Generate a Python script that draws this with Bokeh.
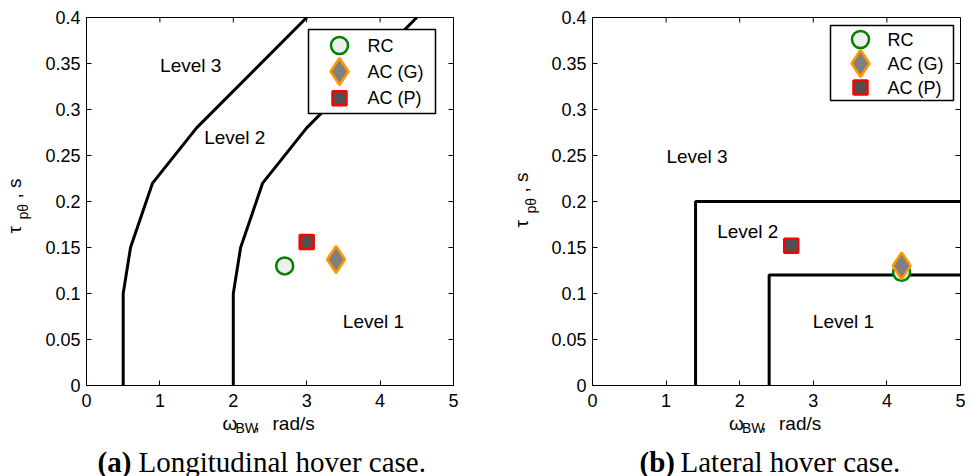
import math

from bokeh.core.properties import value
from bokeh.embed import file_html
from bokeh.layouts import column, row
from bokeh.models import FixedTicker, Range1d
from bokeh.plotting import figure
from bokeh.resources import INLINE

# ---- handling-quality level boundaries ----------------------------------
long_l32_x = [0.5, 0.5, 0.6, 0.9, 1.5, 3.0]
long_l32_y = [0.0, 0.10, 0.15, 0.22, 0.28, 0.40]
long_l21_x = [2.0, 2.0, 2.1, 2.4, 3.0, 4.5]
long_l21_y = [0.0, 0.10, 0.15, 0.22, 0.28, 0.40]

lat_l32_x = [1.4, 1.4, 5.0]
lat_l32_y = [0.0, 0.20, 0.20]
lat_l21_x = [2.4, 2.4, 5.0]
lat_l21_y = [0.0, 0.12, 0.12]

# ---- configurations: bandwidth (rad/s) and phase delay (s) ---------------
long_rc_bw, long_rc_tau = [2.7], [0.130]
long_acg_bw, long_acg_tau = [3.4], [0.137]
long_acp_bw, long_acp_tau = [3.0], [0.156]

lat_rc_bw, lat_rc_tau = [4.2], [0.123]
lat_acg_bw, lat_acg_tau = [4.2], [0.130]
lat_acp_bw, lat_acp_tau = [2.7], [0.152]

series_names = ["RC", "AC (G)", "AC (P)"]

# ---- region labels --------------------------------------------------------
level_names = ["Level 3", "Level 2", "Level 1"]
long_level_x = [1.42, 2.02, 3.91]
long_level_y = [0.348, 0.270, 0.0695]
lat_level_x = [1.42, 2.11, 3.41]
lat_level_y = [0.249, 0.167, 0.0695]

# ---- axes -----------------------------------------------------------------
x_ticks = [0, 1, 2, 3, 4, 5]
y_ticks = [0, 0.05, 0.1, 0.15, 0.2, 0.25, 0.3, 0.35, 0.4]
y_tick_labels = ["0", "0.05", "0.1", "0.15", "0.2", "0.25", "0.3", "0.35", "0.4"]
captions = [("(a)", "Longitudinal hover case."), ("(b)", "Lateral hover case.")]

SANS = "Liberation Sans"
SERIF = "Liberation Serif"
FW, FH = 367, 368              # plot-box size in pixels
TOP, BOTTOM, LEFT = 17, 28, 46  # borders round each plot box
ROW_H = TOP + FH + BOTTOM
X_MAX, Y_MAX = 5.0, 0.4
BASE_SHIFT = 0.33               # text baseline lies this many em below its anchor

STYLES = {
    "RC": dict(marker="circle", size=17, fill_color="#EEEEEE", line_color="#008000", line_width=2.5),
    "AC (G)": dict(marker="diamond", size=27, fill_color="#808080", line_color="#FF9900", line_width=2.5),
    "AC (P)": dict(marker="square", size=14, fill_color="#505050", line_color="#FF0000", line_width=2.5),
}


def style_axis(ax, standoff):
    ax.axis_line_color = "black"
    ax.axis_line_width = 1
    ax.major_tick_in = 5
    ax.major_tick_out = 0
    ax.major_tick_line_color = "black"
    ax.minor_tick_line_color = None
    ax.major_label_text_font = SANS
    ax.major_label_text_color = "black"
    ax.major_label_text_font_size = "18px"
    ax.major_label_standoff = standoff


def make_panel(frame_w, border_right):
    p = figure(
        frame_width=frame_w, frame_height=FH,
        x_range=Range1d(0, X_MAX), y_range=Range1d(0, Y_MAX),
        output_backend="svg", toolbar_location=None,
        min_border_left=LEFT, min_border_right=border_right,
        min_border_top=TOP, min_border_bottom=BOTTOM,
        background_fill_color="white", border_fill_color="white",
        outline_line_color="black", outline_line_width=1,
    )
    p.grid.visible = False
    p.xaxis.ticker = FixedTicker(ticks=x_ticks)
    p.yaxis.ticker = FixedTicker(ticks=y_ticks)
    p.yaxis.major_label_overrides = {t: s for t, s in zip(y_ticks, y_tick_labels)}
    for ax in p.xaxis:
        style_axis(ax, 8)
    for ax in p.yaxis:
        style_axis(ax, 6)
    # inward ticks along the top and right edges of the box
    p.ray(x=x_ticks, y=[Y_MAX] * len(x_ticks), length=5, angle=-math.pi / 2,
          length_units="screen", line_color="black", line_width=1)
    p.ray(x=[X_MAX] * len(y_ticks), y=y_ticks, length=5, angle=math.pi,
          length_units="screen", line_color="black", line_width=1)
    return p


def px_to_data(fw, px, py):
    """Offsets in pixels from the box's top-left corner to data coordinates."""
    return px / fw * X_MAX, (FH - py) / FH * Y_MAX


def draw_points(p, pts):
    for name, (bw, tau) in zip(series_names, pts):
        p.scatter(bw, tau, **STYLES[name])


def draw_legend(p, fw, box, marker_px, text_px, rows_px):
    l, t, r, b = box
    x0, y0 = px_to_data(fw, l, t)
    x1, y1 = px_to_data(fw, r, b)
    p.quad(left=x0, right=x1, top=y0, bottom=y1, fill_color="white",
           line_color="black", line_width=1.5)
    for name, ry in zip(series_names, rows_px):
        mx, my = px_to_data(fw, marker_px, ry)
        p.scatter([mx], [my], **STYLES[name])
        tx, _ = px_to_data(fw, text_px, ry)
        p.text([tx], [my], text=[name], text_font=value(SANS), text_font_size="18px",
               text_align="left", text_baseline="middle", text_color="black")


def strip(width, height, top=0, bottom=0):
    """A bare canvas, measured in pixels, that carries the titles.

    Returns the figure and the pixel row (from its top) where data y = 0 sits.
    """
    f = figure(width=width, height=height, x_range=Range1d(0, width),
               y_range=Range1d(0, height - top - bottom), output_backend="svg",
               toolbar_location=None, min_border_left=0, min_border_right=0,
               min_border_top=top, min_border_bottom=bottom,
               x_axis_location=None, y_axis_location=None, outline_line_color=None,
               background_fill_color="white", border_fill_color="white")
    f.grid.visible = False
    return f, height - bottom


def write(canvas, px, base, text, size, font=SANS, style="normal", vertical=False):
    """Place text so that its baseline runs through (px, base) / along x = base."""
    f, y0 = canvas
    s = float(size.rstrip("px"))
    if vertical:
        ax, ay, angle = base - BASE_SHIFT * s, y0 - px, math.pi / 2
    else:
        ax, ay, angle = px, y0 - (base - BASE_SHIFT * s), 0.0
    f.text([ax], [ay], text=[text], text_font=value(font),
           text_font_size=size, text_font_style=value(style), angle=angle,
           text_align="left", text_baseline="alphabetic", text_color="black")


def y_title(canvas, base_x, start_y, sub_drop):
    # tau with subscript p-theta, then ", s"; reads upward
    write(canvas, start_y, base_x, "\u03c4", "19px", vertical=True)
    write(canvas, start_y - 14, base_x + sub_drop, "p\u03b8", "14px", vertical=True)
    write(canvas, start_y - 35, base_x, ", s", "19px", vertical=True)


def x_title(canvas, cx, base_y):
    # omega with subscript BW, then ", rad/s"
    write(canvas, cx - 47.5, base_y, "\u03c9", "19px")
    write(canvas, cx - 34.5, base_y + 3, "BW", "14px")
    write(canvas, cx - 15.5, base_y, ",", "19px")
    write(canvas, cx + 2.5, base_y, "rad/s", "19px")


def caption(canvas, x, base_y, bold, rest, rest_dx):
    write(canvas, x, base_y, bold, "29px", font=SERIF, style="bold")
    write(canvas, x + rest_dx, base_y, rest, "29px", font=SERIF)


# ---- (a) longitudinal -----------------------------------------------------
pa = make_panel(FW, 17)
pa.line(long_l32_x, long_l32_y, line_color="black", line_width=3)
pa.line(long_l21_x, long_l21_y, line_color="black", line_width=3)
pa.text(long_level_x, long_level_y, text=level_names, text_font=value(SANS),
        text_font_size="19px", text_align="center", text_baseline="middle", text_color="black")
draw_points(pa, [(long_rc_bw, long_rc_tau), (long_acg_bw, long_acg_tau), (long_acp_bw, long_acp_tau)])
draw_legend(pa, FW, (222, 12, 349, 96), 253, 281, [28, 54, 80.7])

# ---- (b) lateral ----------------------------------------------------------
pb = make_panel(FW + 1, 13)
pb.line(lat_l32_x, lat_l32_y, line_color="black", line_width=3)
pb.line(lat_l21_x, lat_l21_y, line_color="black", line_width=3)
pb.text(lat_level_x, lat_level_y, text=level_names, text_font=value(SANS),
        text_font_size="19px", text_align="center", text_baseline="middle", text_color="black")
draw_points(pb, [(lat_rc_bw, lat_rc_tau), (lat_acg_bw, lat_acg_tau), (lat_acp_bw, lat_acp_tau)])
draw_legend(pb, FW + 1, (238, 8, 361, 83), 268, 295, [22, 46, 70])

# ---- titles round the two boxes ------------------------------------------
ya = strip(40, ROW_H, TOP, BOTTOM)
y_title(ya, 20.5, 233, 6.5)
yb = strip(76, ROW_H, TOP, BOTTOM)
y_title(yb, 57.0, 227, 8.0)

bottom = strip(973, 476 - ROW_H)
x_title(bottom, 269.5, 429.5 - ROW_H)
x_title(bottom, 776.0, 429.5 - ROW_H)
caption(bottom, 97, 471 - ROW_H, captions[0][0], captions[0][1], 41)
caption(bottom, 639, 471 - ROW_H, captions[1][0], captions[1][1], 41)

layout = column(row(ya[0], pa, yb[0], pb), bottom[0])
open("out.html", "w").write(file_html(layout, INLINE))
